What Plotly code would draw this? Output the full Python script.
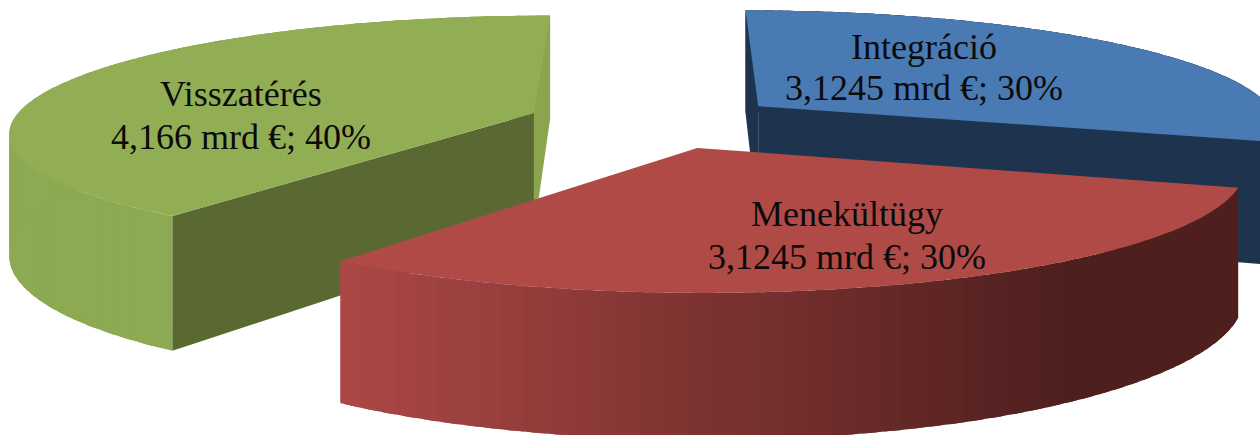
import math
import plotly.graph_objects as go

categories = ["Integráció", "Menekültügy", "Visszatérés"]
values = [3.1245, 3.1245, 4.166]
percents = [30, 30, 40]
value_labels = ["3,1245", "3,1245", "4,166"]

START_ANGLE = -90.0
EXPLODE = [0.24, 0.23, 0.255]
S, T, H = 521.8, 114.6, 120.0
X0, Y0, K = 659.0, 122.0, 0.15

total = sum(values)
spans = []
a = START_ANGLE
for v in values:
    b = a + 360 * v / total
    spans.append((a, b))
    a = b


def project(x, y, z=0.0):
    p = 1 / (1 - K * y)
    return X0 + S * x * p, Y0 + (T * y + H * z) * p


def mix(c1, c2, t):
    c = [round(c1[i] + (c2[i] - c1[i]) * t) for i in range(3)]
    return "rgb(%d,%d,%d)" % tuple(c)


def wedge_points(i, n=150):
    a0, a1 = spans[i]
    mid = math.radians((a0 + a1) / 2)
    ox, oy = EXPLODE[i] * math.cos(mid), EXPLODE[i] * math.sin(mid)
    pts = []
    for j in range(n + 1):
        t = math.radians(a0 + (a1 - a0) * j / n)
        pts.append((ox + math.cos(t), oy + math.sin(t)))
    return (ox, oy), pts


fig = go.Figure()


def poly(pts, color):
    fig.add_trace(go.Scatter(x=[c[0] for c in pts], y=[c[1] for c in pts], mode="none",
                             fill="toself", fillcolor=color, hoverinfo="skip", showlegend=False))


def draw_slice(i, top, wall_start, wall_end, grad_left, grad_right):
    apex, rim = wedge_points(i)
    # outer wall: overlapping bands so no seams show
    step = 3
    for j in range(0, len(rim) - 1, step):
        seg = rim[j:j + step + 3]
        upper = [project(*r) for r in seg]
        lower = [project(*r, 1) for r in seg][::-1]
        xmid = (upper[0][0] + upper[min(step, len(upper) - 1)][0]) / 2
        t = min(1, max(0, (xmid - grad_left[0]) / (grad_right[0] - grad_left[0])))
        poly(upper + lower, mix(grad_left[1], grad_right[1], t))
    # radial walls that face the viewer
    for end, col in ((rim[-1], wall_end), (rim[0], wall_start)):
        if col is not None:
            poly([project(*apex), project(*end), project(*end, 1), project(*apex, 1)], col)
    # top face
    poly([project(*apex)] + [project(*r) for r in rim], top)


# back to front: green, blue, red
draw_slice(2, "rgb(146,174,85)", "rgb(90,105,50)", "rgb(139,165,78)",
           (0, (140, 170, 82)), (300, (140, 170, 82)))
draw_slice(0, "rgb(74,122,179)", "rgb(30,51,78)", "rgb(30,51,78)",
           (740, (30, 51, 78)), (1260, (30, 51, 78)))
draw_slice(1, "rgb(176,74,71)", None, None,
           (340, (172, 72, 70)), (1060, (79, 31, 30)))

label_x = [924, 847, 241]
label_y1 = [47, 214, 94]
label_y2 = [88, 257, 137]
annotations = []
for i, name in enumerate(categories):
    for txt, yy in ((name, label_y1[i]), (f"{value_labels[i]} mrd €; {percents[i]}%", label_y2[i])):
        annotations.append(dict(
            x=label_x[i], y=yy, xref="x", yref="y", showarrow=False, align="center",
            text=txt, font=dict(family="Liberation Serif", size=36, color="#0b0b0b"),
        ))

fig.update_layout(
    width=1260, height=435, margin=dict(l=0, r=0, t=0, b=0),
    paper_bgcolor="white", plot_bgcolor="white", showlegend=False,
    xaxis=dict(range=[0, 1260], visible=False, fixedrange=True),
    yaxis=dict(range=[435, 0], visible=False, fixedrange=True),
    annotations=annotations,
)
fig.write_html("out.html", config={"displayModeBar": False},
               post_script="document.body.style.margin='0';document.body.style.overflow='hidden';")
